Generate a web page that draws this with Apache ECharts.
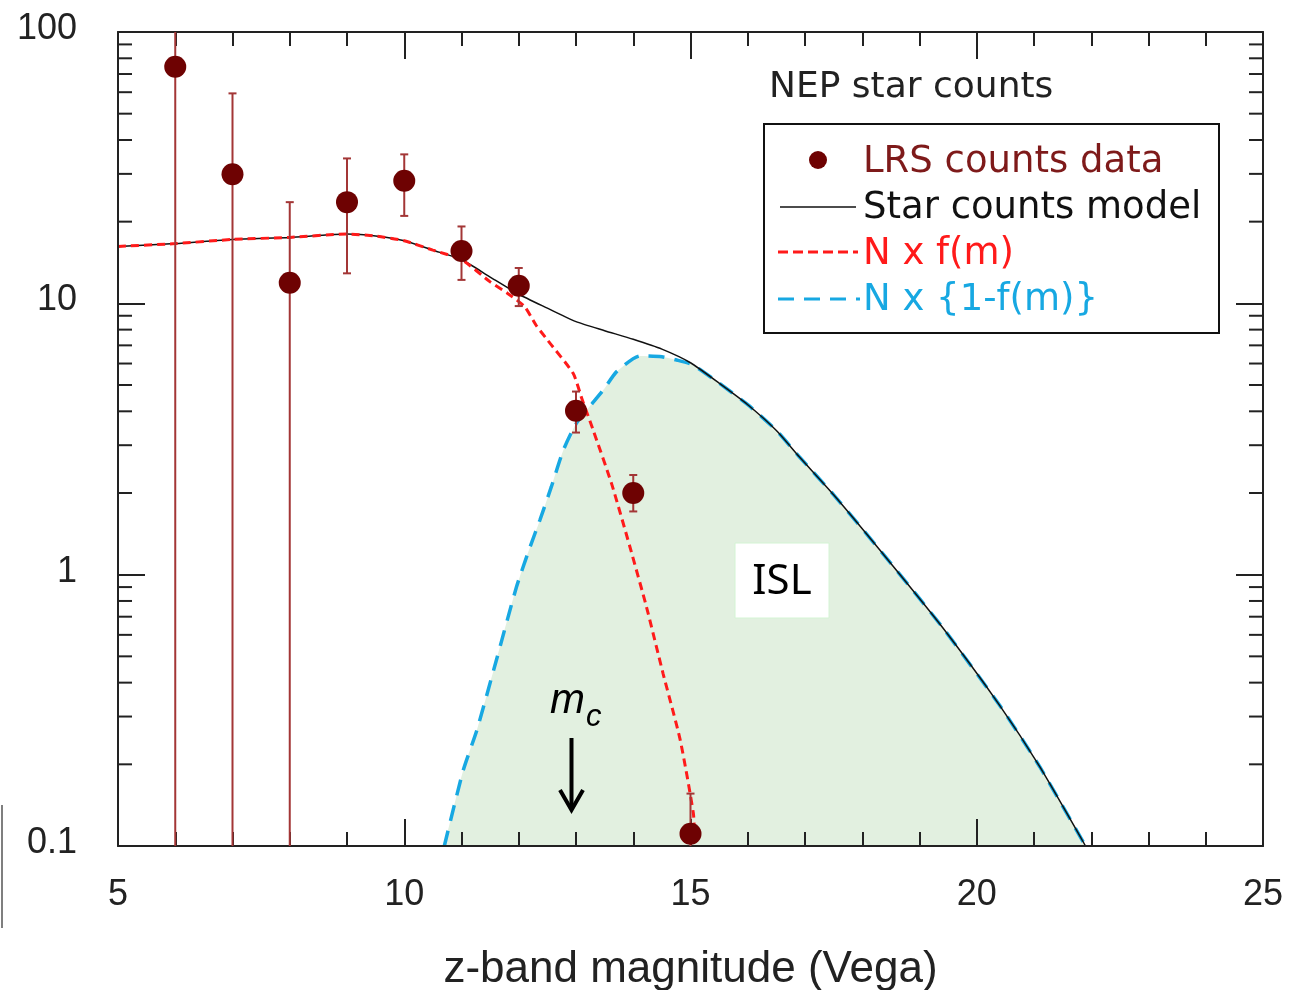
<!DOCTYPE html>
<html>
<head>
<meta charset="UTF-8">
<title>NEP star counts</title>
<script src="https://cdn.jsdelivr.net/npm/echarts@6/dist/echarts.min.js"></script>
<style>
  html, body { margin: 0; padding: 0; background: #fff; }
  #chart { width: 1303px; height: 990px; }
</style>
</head>
<body>
<div id="chart"></div>
<script>
// LRS counts data (magnitude, counts, error bar low / high)
var dataMag = [6, 7, 8, 9, 10, 11, 12, 13, 14, 15];
var dataCount = [74.5, 29.9, 11.9, 23.6, 28.3, 15.6, 11.6, 4.02, 2.00, 0.111];
var errLow = [0.05, 0.05, 0.05, 12.9, 21.0, 12.2, 9.77, 3.34, 1.71, 0.08];
var errHigh = [120, 59.4, 23.6, 34.2, 35.4, 19.2, 13.5, 4.73, 2.33, 0.156];

// star counts model
var modelMag = [5, 6, 7, 8, 9, 9.5, 10, 10.5, 11, 11.5, 12, 12.5, 13, 13.5, 14, 14.5, 15, 15.5, 16, 16.5, 16.9, 17.5, 18.5, 19.4, 20.4, 21.1, 21.9];
var modelVal = [16.2, 16.6, 17.2, 17.5, 18.0, 17.7, 17.0, 15.7, 14.5, 12.5, 10.8, 9.6, 8.56, 7.93, 7.37, 6.78, 6.04, 5.08, 4.23, 3.40, 2.72, 1.97, 1.10, 0.64, 0.33, 0.196, 0.1];

// N x f(m)
var fMag = [5, 6, 7, 8, 9, 9.5, 10, 10.5, 11, 11.5, 11.8, 12.1, 12.3, 12.5, 12.95, 13.1, 13.3, 13.62, 13.94, 14.23, 14.52, 14.82, 15.05, 15.07];
var fVal = [16.2, 16.6, 17.2, 17.5, 18.0, 17.7, 17.0, 15.7, 14.5, 12.0, 10.9, 9.74, 8.32, 7.33, 5.52, 4.47, 3.41, 2.17, 1.27, 0.762, 0.433, 0.246, 0.132, 0.108];

// N x {1-f(m)}
var gMag = [10.7, 11.03, 11.27, 11.61, 11.96, 12.2, 12.37, 12.57, 12.78, 13.01, 13.48, 13.71, 14.12, 14.5, 14.76, 15.04, 15.5, 16, 16.5, 16.9, 17.5, 18.5, 19.4, 20.4, 21.1, 21.9];
var gVal = [0.1, 0.19, 0.268, 0.485, 0.90, 1.27, 1.59, 2.11, 2.88, 3.62, 4.80, 5.60, 6.40, 6.35, 6.18, 5.93, 5.08, 4.23, 3.40, 2.72, 1.97, 1.10, 0.64, 0.33, 0.196, 0.1];

// log axis minor tick values
var yMinorTicks = [0.2, 0.3, 0.4, 0.5, 0.6, 0.7, 0.8, 0.9, 2, 3, 4, 5, 6, 7, 8, 9, 20, 30, 40, 50, 60, 70, 80, 90];

function pairs(xs, ys) {
    var out = [];
    for (var i = 0; i < xs.length; i++) out.push([xs[i], ys[i]]);
    return out;
}

var errData = [];
for (var i = 0; i < dataMag.length; i++) errData.push([dataMag[i], errLow[i], errHigh[i]]);

var axisColor = '#222';
var tickFont = 'Liberation Sans';

var myChart = echarts.init(document.getElementById('chart'));

function renderErr(params, api) {
    var cs = params.coordSys;
    var top = cs.y, bottom = cs.y + cs.height;
    var pHi = api.coord([api.value(0), api.value(2)]);
    var pLo = api.coord([api.value(0), api.value(1)]);
    var x = pHi[0];
    var y1 = Math.max(pHi[1], top), y2 = Math.min(pLo[1], bottom);
    var st = { stroke: '#a33636', lineWidth: 2 };
    var kids = [{ type: 'line', shape: { x1: x, y1: y1, x2: x, y2: y2 }, style: st }];
    if (pHi[1] > top) kids.push({ type: 'line', shape: { x1: x - 4, y1: y1, x2: x + 4, y2: y1 }, style: st });
    if (pLo[1] < bottom) kids.push({ type: 'line', shape: { x1: x - 4, y1: y2, x2: x + 4, y2: y2 }, style: st });
    return { type: 'group', children: kids };
}

// short log ticks on both vertical sides of the frame
function renderMinor(params, api) {
    var cs = params.coordSys;
    var y = api.coord([5, api.value(1)])[1];
    var st = { stroke: axisColor, lineWidth: 2 };
    return {
        type: 'group',
        children: [
            { type: 'line', shape: { x1: cs.x, y1: y, x2: cs.x + 14, y2: y }, style: st },
            { type: 'line', shape: { x1: cs.x + cs.width - 14, y1: y, x2: cs.x + cs.width, y2: y }, style: st }
        ]
    };
}

var xCommon = {
    type: 'value', min: 5, max: 25, interval: 5,
    axisLine: { show: true, onZero: false, lineStyle: { color: axisColor, width: 2 } },
    axisTick: { show: true, inside: true, length: 27, lineStyle: { color: axisColor, width: 2 } },
    minorTick: { show: true, splitNumber: 5, length: 14, lineStyle: { color: axisColor, width: 2 } },
    splitLine: { show: false },
    z: 5
};
var yCommon = {
    type: 'log', logBase: 10, min: 0.1, max: 100,
    axisLine: { show: true, onZero: false, lineStyle: { color: axisColor, width: 2 } },
    axisTick: { show: true, inside: true, length: 27, lineStyle: { color: axisColor, width: 2 } },
    splitLine: { show: false },
    z: 5
};

option = {
    backgroundColor: '#fff',
    animation: false,
    grid: { left: 118, top: 32, right: 40, bottom: 144, containLabel: false, outerBoundsMode: 'none' },
    xAxis: [
        Object.assign({}, xCommon, {
            position: 'bottom',
            axisLabel: { show: true, margin: 31, fontFamily: tickFont, fontSize: 36, color: '#222', lineHeight: 36 },
            name: 'z-band magnitude (Vega)',
            nameLocation: 'middle',
            nameGap: 102,
            nameTextStyle: { fontFamily: tickFont, fontSize: 44, color: '#222' }
        }),
        Object.assign({}, xCommon, { position: 'top', axisLabel: { show: false } })
    ],
    yAxis: [
        Object.assign({}, yCommon, {
            position: 'left',
            axisLabel: {
                show: true, margin: 41, fontFamily: tickFont, fontSize: 36, color: '#222',
                verticalAlign: 'bottom', lineHeight: 6,
                formatter: function (v) { return v < 1 ? String(Math.round(v * 10) / 10) : String(Math.round(v)); }
            }
        }),
        Object.assign({}, yCommon, { position: 'right', axisLabel: { show: false } })
    ],
    series: [
        {
            name: 'N x {1-f(m)}',
            type: 'line',
            data: pairs(gMag, gVal),
            showSymbol: false,
            smooth: 0.2,
            lineStyle: { color: '#17a8e2', width: 3.5, type: [16, 10] },
            areaStyle: { color: '#e2f0e0', opacity: 1, origin: 'start' },
            z: 2
        },
        {
            name: 'Star counts model',
            type: 'line',
            data: pairs(modelMag, modelVal),
            showSymbol: false,
            smooth: 0.2,
            lineStyle: { color: '#111', width: 1.5 },
            z: 3
        },
        {
            name: 'N x f(m)',
            type: 'line',
            data: pairs(fMag, fVal),
            showSymbol: false,
            smooth: 0.2,
            lineStyle: { color: '#ff1a1a', width: 3, type: [8, 5] },
            z: 4
        },
        {
            name: 'minor',
            type: 'custom',
            renderItem: renderMinor,
            data: yMinorTicks.map(function (v) { return [5, v]; }),
            silent: true,
            z: 6
        },
        {
            name: 'err',
            type: 'custom',
            renderItem: renderErr,
            data: errData,
            encode: { x: 0, y: [1, 2] },
            z: 7
        },
        {
            name: 'LRS counts data',
            type: 'scatter',
            data: pairs(dataMag, dataCount),
            symbol: 'circle',
            symbolSize: 22,
            itemStyle: { color: '#6e0202', opacity: 1 },
            z: 8
        }
    ],
    graphic: [
        { type: 'line', shape: { x1: 2, y1: 805, x2: 2, y2: 928 }, style: { stroke: '#555', lineWidth: 1.5 } },
        { type: 'text', x: 769, y: 88, style: { text: 'NEP star counts', font: '36px "DejaVu Sans"', fill: '#222', textVerticalAlign: 'middle', verticalAlign: 'middle' } },
        { type: 'rect', shape: { x: 764, y: 124, width: 455, height: 209 }, style: { fill: '#fff', stroke: '#111', lineWidth: 2 }, z: 10 },
        { type: 'circle', shape: { cx: 818, cy: 160, r: 9 }, style: { fill: '#6e0202' }, z: 11 },
        { type: 'text', x: 863, y: 162, style: { text: 'LRS counts data', font: '37px "DejaVu Sans"', fill: '#7e1a1a', textVerticalAlign: 'middle', verticalAlign: 'middle' }, z: 11 },
        { type: 'line', shape: { x1: 780, y1: 207, x2: 856, y2: 207 }, style: { stroke: '#111', lineWidth: 1.5 }, z: 11 },
        { type: 'text', x: 863, y: 208, style: { text: 'Star counts model', font: '37px "DejaVu Sans"', fill: '#111', textVerticalAlign: 'middle', verticalAlign: 'middle' }, z: 11 },
        { type: 'line', shape: { x1: 778, y1: 252, x2: 858, y2: 252 }, style: { stroke: '#ff1a1a', lineWidth: 3, lineDash: [10, 5] }, z: 11 },
        { type: 'text', x: 863, y: 254, style: { text: 'N x f(m)', font: '37px "DejaVu Sans"', fill: '#ff1a1a', textVerticalAlign: 'middle', verticalAlign: 'middle' }, z: 11 },
        { type: 'line', shape: { x1: 778, y1: 299, x2: 860, y2: 299 }, style: { stroke: '#17a8e2', lineWidth: 3, lineDash: [16, 10] }, z: 11 },
        { type: 'text', x: 863, y: 300, style: { text: 'N x {1-f(m)}', font: '37px "DejaVu Sans"', fill: '#17a8e2', textVerticalAlign: 'middle', verticalAlign: 'middle' }, z: 11 },
        // ISL label
        { type: 'rect', shape: { x: 735, y: 543, width: 94, height: 75 }, style: { fill: '#fff', stroke: '#d4f4d4', lineWidth: 1 }, z: 11 },
        { type: 'text', x: 782, y: 582, style: { text: 'ISL', font: '42px "Noto Sans"', fill: '#000', textAlign: 'center', align: 'center', textVerticalAlign: 'middle', verticalAlign: 'middle' }, z: 11 },
        // m_c marker
        { type: 'text', x: 550, y: 722, style: { text: 'm', font: 'italic 42px "Liberation Sans"', fill: '#000', textVerticalAlign: 'bottom', verticalAlign: 'bottom' }, z: 11 },
        { type: 'text', x: 586, y: 733, style: { text: 'c', font: 'italic 31px "Liberation Sans"', fill: '#000', textVerticalAlign: 'bottom', verticalAlign: 'bottom' }, z: 11 },
        { type: 'line', shape: { x1: 571.5, y1: 738, x2: 571.5, y2: 808 }, style: { stroke: '#000', lineWidth: 4 }, z: 11 },
        { type: 'polyline', shape: { points: [[560, 790], [571.5, 810], [583, 790]] }, style: { stroke: '#000', lineWidth: 4, fill: null }, z: 11 }
    ]
};
myChart.setOption(option);
</script>
</body>
</html>
